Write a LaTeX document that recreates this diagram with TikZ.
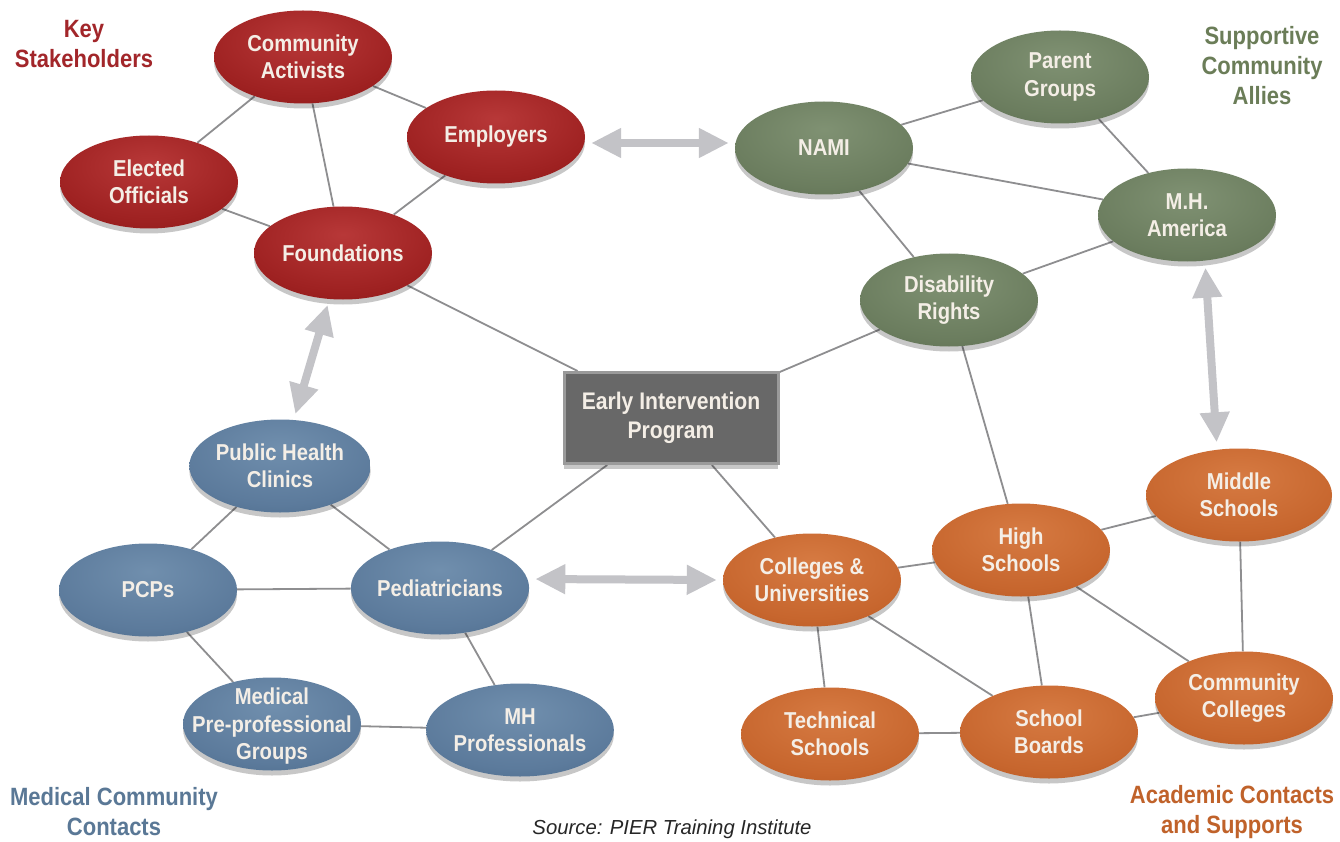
\documentclass[tikz,border=0pt]{standalone}
\usepackage{fontspec}
\setmainfont[FakeStretch=0.88]{Liberation Sans}
\newfontfamily\srcfont{Liberation Sans}
\usetikzlibrary{shapes.geometric,shadows,arrows.meta,backgrounds}
\definecolor{nodetext}{HTML}{F4EEE6}
\definecolor{edgegray}{HTML}{8E8E90}
\definecolor{arrowgray}{HTML}{C3C3C7}
\definecolor{tred}{HTML}{A2262A}
\definecolor{tgreen}{HTML}{6B7D58}
\definecolor{tblue}{HTML}{5A7896}
\definecolor{torange}{HTML}{C0622A}
\definecolor{boxgray}{HTML}{686868}
\definecolor{boxedge}{HTML}{9A9A9A}
\pgfdeclareradialshading{redball}{\pgfpoint{0bp}{10bp}}{rgb(0bp)=(0.72,0.22,0.22); rgb(28bp)=(0.62,0.13,0.13); rgb(46bp)=(0.52,0.08,0.08); rgb(50bp)=(0.46,0.05,0.05); rgb(100bp)=(0.46,0.05,0.05)}
\pgfdeclareradialshading{greenball}{\pgfpoint{0bp}{10bp}}{rgb(0bp)=(0.50,0.57,0.45); rgb(28bp)=(0.42,0.49,0.37); rgb(46bp)=(0.34,0.41,0.30); rgb(50bp)=(0.29,0.36,0.26); rgb(100bp)=(0.29,0.36,0.26)}
\pgfdeclareradialshading{blueball}{\pgfpoint{0bp}{10bp}}{rgb(0bp)=(0.44,0.56,0.68); rgb(28bp)=(0.36,0.48,0.61); rgb(46bp)=(0.28,0.40,0.52); rgb(50bp)=(0.23,0.35,0.47); rgb(100bp)=(0.23,0.35,0.47)}
\pgfdeclareradialshading{orangeball}{\pgfpoint{0bp}{10bp}}{rgb(0bp)=(0.84,0.48,0.26); rgb(28bp)=(0.78,0.40,0.18); rgb(46bp)=(0.70,0.33,0.12); rgb(50bp)=(0.62,0.28,0.09); rgb(100bp)=(0.62,0.28,0.09)}
\tikzset{
  oval/.style={ellipse, minimum width=178pt, minimum height=93pt, inner sep=0pt, align=center,
    font=\fontsize{23}{27.5}\selectfont\bfseries, text=nodetext,
    drop shadow={shadow xshift=0pt, shadow yshift=-5pt, opacity=0.22, fill=black}},
  rednode/.style={oval, shading=redball},
  greennode/.style={oval, shading=greenball},
  bluenode/.style={oval, shading=blueball},
  orangenode/.style={oval, shading=orangeball},
  centerbox/.style={rectangle, minimum width=214pt, minimum height=91pt, inner sep=0pt, align=center,
    fill=boxgray, draw=boxedge, line width=3pt, text=nodetext,
    font=\fontsize{24}{29}\selectfont\bfseries,
    drop shadow={shadow xshift=0pt, shadow yshift=-5pt, opacity=0.22, fill=black}},
  link/.style={draw=edgegray, line width=1.8pt},
  bigarrow/.style={draw=arrowgray, line width=8pt,
    {Triangle[width=28pt,length=30pt]}-{Triangle[width=28pt,length=30pt]},
    shorten <=6pt, shorten >=6pt},
  title/.style={align=center, font=\fontsize{25}{30}\selectfont\bfseries}
}
\begin{document}
\begin{tikzpicture}[x=1pt,y=-1pt]
\useasboundingbox (0,0) rectangle (1340,842);
% red cluster
\node[rednode] (CA) at (303,57) {Community\\Activists};
\node[rednode] (EO) at (149,182) {Elected\\Officials};
\node[rednode] (EMP) at (496,137) {Employers};
\node[rednode] (FND) at (343,253) {Foundations};
% green cluster
\node[greennode] (NAMI) at (824,148) {NAMI};
\node[greennode] (PG) at (1060,77) {Parent\\Groups};
\node[greennode] (MHA) at (1187,215) {M.H.\\America};
\node[greennode] (DR) at (949,300) {Disability\\Rights};
% center
\node[centerbox] (EIP) at (671,418) {Early Intervention\\Program};
% blue cluster
\node[bluenode] (PHC) at (280,466) {Public Health\\Clinics};
\node[bluenode] (PCP) at (148,590) {PCPs};
\node[bluenode] (PED) at (440,588) {Pediatricians};
\node[bluenode] (MED) at (272,724) {\makebox[0pt]{\smash{\raisebox{-9pt}{\begin{tabular}{@{}c@{}}Medical\\Pre-professional\\Groups\end{tabular}}}}};
\node[bluenode] (MHP) at (520,730) {MH\\Professionals};
% orange cluster
\node[orangenode] (COL) at (812,580) {Colleges \&\\Universities};
\node[orangenode] (HS) at (1021,550) {High\\Schools};
\node[orangenode, minimum width=186pt] (MS) at (1239,495) {Middle\\Schools};
\node[orangenode] (CC) at (1244,698) {Community\\Colleges};
\node[orangenode] (TS) at (830,734) {Technical\\Schools};
\node[orangenode] (SB) at (1049,732) {School\\Boards};
% titles
\node[title, text=tred] (T1) at (84,44) {Key\\Stakeholders};
\node[title, text=tgreen] (T2) at (1262,66) {Supportive\\Community\\Allies};
\node[title, text=tblue] (T3) at (114,812) {Medical Community\\Contacts};
\node[title, text=torange] (T4) at (1232,812) {Academic Contacts\\and Supports};
\node[font=\srcfont\itshape\fontsize{20.3}{24}\selectfont, text=black!85] (SRC) at (672,829) {Source: PIER Training Institute};
% links
\begin{scope}[on background layer]
\fill[white] (0,0) rectangle (1340,842);
\draw[link] (CA) -- (EO);
\draw[link] (CA) -- (EMP);
\draw[link] (CA) -- (FND);
\draw[link] (EO) -- (FND);
\draw[link] (EMP) -- (FND);
\draw[link] (FND) -- (EIP);
\draw[link] (NAMI) -- (PG);
\draw[link] (NAMI) -- (MHA);
\draw[link] (PG) -- (MHA);
\draw[link] (NAMI) -- (DR);
\draw[link] (DR) -- (MHA);
\draw[link] (DR) -- (EIP);
\draw[link] (DR) -- (HS);
\draw[link] (PHC) -- (PCP);
\draw[link] (PHC) -- (PED);
\draw[link] (PCP) -- (PED);
\draw[link] (PCP) -- (MED);
\draw[link] (MED) -- (MHP);
\draw[link] (PED) -- (MHP);
\draw[link] (PED) -- (EIP);
\draw[link] (COL) -- (EIP);
\draw[link] (COL) -- (HS);
\draw[link] (COL) -- (TS);
\draw[link] (COL) -- (SB);
\draw[link] (HS) -- (MS);
\draw[link] (HS) -- (SB);
\draw[link] (HS) -- (CC);
\draw[link] (MS) -- (CC);
\draw[link] (TS) -- (SB);
\draw[link] (SB) -- (CC);
\end{scope}
% big double arrows
\draw[bigarrow] ([yshift=-6pt]EMP.east) -- ([yshift=5pt]NAMI.west);
\draw[bigarrow] (FND) -- (PHC);
\draw[bigarrow] ([yshift=9pt]PED.east) -- (COL.west);
\draw[bigarrow] ([xshift=18pt]MHA.south) -- ([xshift=-22pt]MS.north);
\end{tikzpicture}
\end{document}
